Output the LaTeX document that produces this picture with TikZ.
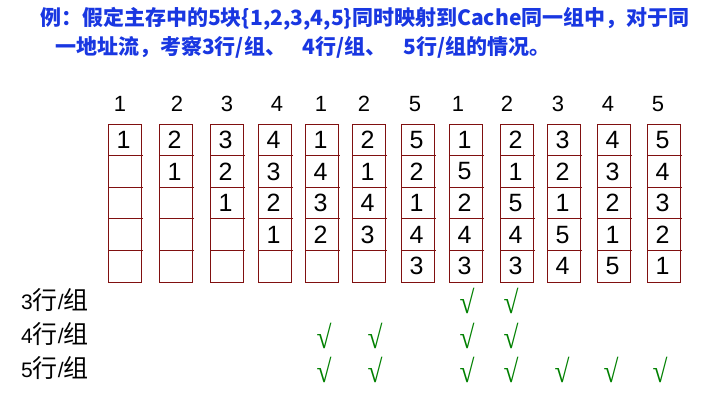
\documentclass[tikz,border=0pt]{standalone}
\usepackage{fontspec}
\setmainfont{Liberation Sans}
\newfontfamily\cjk{Noto Sans CJK SC}
\newfontfamily\chkfont{Liberation Serif}
\definecolor{boxred}{RGB}{128,16,16}
\definecolor{titleblue}{RGB}{25,55,225}
\definecolor{chkgreen}{RGB}{0,128,0}
\newcommand\labcj[1]{{\cjk\fontsize{25}{25}\selectfont #1}}
\tikzset{
  hdr/.style={font=\fontsize{22}{22}\selectfont, inner sep=0pt},
  cell/.style={font=\fontsize{25}{25}\selectfont, inner sep=0pt},
  rowlab/.style={font=\fontsize{21}{21}\selectfont, inner sep=0pt, anchor=west},
  chk/.style={font=\chkfont\fontsize{32}{32}\selectfont, text=chkgreen, inner sep=0pt, xscale=0.85},
  titletext/.style={font=\cjk\bfseries\fontsize{21}{21}\selectfont, text=titleblue, inner sep=0pt, anchor=west},
  cellbox/.style={draw=boxred, line width=0.9pt}
}
\begin{document}
\begin{tikzpicture}[x=1pt,y=-1pt]
\useasboundingbox (0,0) rectangle (722,400);
\node[titletext] (t1) at (40,19) {例：假定主存中的5块\{1,2,3,4,5\}同时映射到Cache同一组中，对于同};
\node[titletext] (t2) at (55,47) {一地址流，考察3行/组、\hspace{0.8em}4行/组、\hspace{0.8em}5行/组的情况。};
\def\rh{31.6}
\foreach \i/\lx/\hx/\h/\a/\b/\c/\d/\e in {
 1/108/120/1/1/{}/{}/{}/{},
 2/159/177/2/2/1/{}/{}/{},
 3/210/227/3/3/2/1/{}/{},
 4/258/277/4/4/3/2/1/{},
 5/305/321/1/1/4/3/2/{},
 6/352/364/2/2/1/4/3/{},
 7/401/415/5/5/2/1/4/3,
 8/449/458/1/1/5/2/4/3,
 9/500/507/2/2/1/5/4/3,
 10/547/558/3/3/2/1/5/4,
 11/597/608/4/4/3/2/1/5,
 12/647/658/5/5/4/3/2/1}{
  \node[hdr] (h\i) at (\hx,104) {\h};
  \draw[cellbox] (\lx,124) rectangle ++(33,158);
  \foreach \k in {1,2,3,4}{
    \draw[boxred, line width=0.9pt] (\lx,124+\k*\rh) -- ++(35,0);
  }
  \node[cell] (c\i a) at (\lx+15.5,124+0.5*\rh) {\a};
  \node[cell] (c\i b) at (\lx+15.5,124+1.5*\rh) {\b};
  \node[cell] (c\i c) at (\lx+15.5,124+2.5*\rh) {\c};
  \node[cell] (c\i d) at (\lx+15.5,124+3.5*\rh) {\d};
  \node[cell] (c\i e) at (\lx+15.5,124+4.5*\rh) {\e};
}
\node[rowlab] (r3) at (21,300) {3\labcj{行}/\labcj{组}};
\node[rowlab] (r4) at (21,334) {4\labcj{行}/\labcj{组}};
\node[rowlab] (r5) at (21,368) {5\labcj{行}/\labcj{组}};
\foreach \x [count=\n] in {467,511}{ \node[chk] (k3\n) at (\x,301) {√}; }
\foreach \x [count=\n] in {324,375,467,511}{ \node[chk] (k4\n) at (\x,336) {√}; }
\foreach \x [count=\n] in {324,375,467,511,562,611,660}{ \node[chk] (k5\n) at (\x,370) {√}; }
\end{tikzpicture}
\end{document}
